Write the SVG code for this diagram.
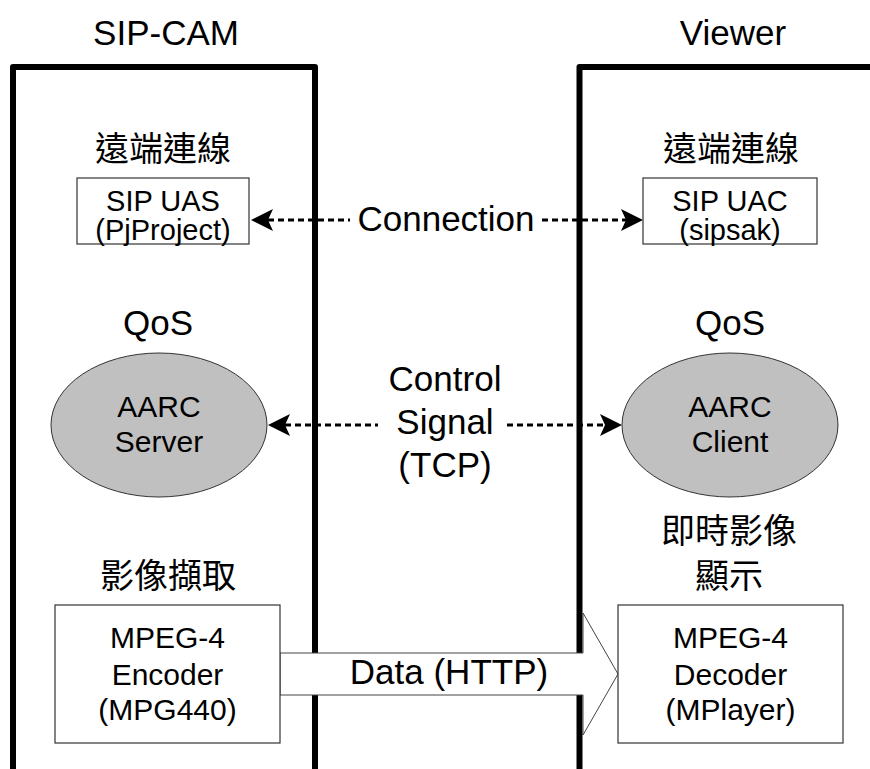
<svg xmlns="http://www.w3.org/2000/svg" width="870" height="769" viewBox="0 0 870 769">
<defs>
<style>
.frame{fill:none;stroke:#000;stroke-width:6;stroke-linejoin:round}
.box{fill:#fff;stroke:#333;stroke-width:1.2}
.ell{fill:#c0c0c0;stroke:#333;stroke-width:1}
.dash{fill:none;stroke:#000;stroke-width:3;stroke-dasharray:6 4}
.big{fill:#fff;stroke:#444;stroke-width:1}
text{font-family:"Liberation Sans",Arial,sans-serif;fill:#000;text-anchor:middle}
.t35{font-size:35px}
.t30{font-size:30px}
.t29{font-size:29px}
.cjk{font-family:"Noto Sans CJK TC","Noto Sans CJK SC",sans-serif;font-size:34px}
</style>
<marker id="ah" viewBox="0 0 22 22" markerWidth="22" markerHeight="22" refX="5" refY="11" orient="auto-start-reverse" markerUnits="userSpaceOnUse">
<path d="M0,0 L22,11 L0,22 L5,11 z" fill="#000"/>
</marker>
</defs>
<rect width="870" height="769" fill="#fff"/>

<g id="sipcam">
<path class="frame" d="M13,775 V67 H315 V775"/>
<text class="t35" x="166" y="45">SIP-CAM</text>
</g>
<g id="viewer">
<path class="frame" d="M579.5,775 V67 H880"/>
<text class="t35" x="733" y="45">Viewer</text>
</g>

<g id="connectors">
<line class="dash" x1="268" y1="220" x2="350" y2="220" marker-start="url(#ah)"/>
<line class="dash" x1="542" y1="220" x2="626" y2="220" marker-end="url(#ah)"/>
<text class="t35" x="446" y="231">Connection</text>
<line class="dash" x1="285" y1="425" x2="378" y2="425" marker-start="url(#ah)"/>
<line class="dash" x1="507" y1="425" x2="605" y2="425" marker-end="url(#ah)"/>
<text class="t35" x="445" y="391">Control</text>
<text class="t35" x="445" y="434">Signal</text>
<text class="t35" x="445" y="477">(TCP)</text>
<polygon class="big" points="280,653 583,653 583,613 618,674 583,735 583,695 280,695"/>
<text class="t35" x="449" y="684">Data (HTTP)</text>
</g>

<g id="sip-uas">
<text class="cjk" x="163" y="161">遠端連線</text>
<rect class="box" x="77" y="178" width="172" height="66"/>
<text class="t29" x="163" y="211">SIP UAS</text>
<text class="t29" x="163" y="240">(PjProject)</text>
</g>
<g id="sip-uac">
<text class="cjk" x="731" y="161">遠端連線</text>
<rect class="box" x="643" y="178" width="174" height="66"/>
<text class="t29" x="730" y="211">SIP UAC</text>
<text class="t29" x="730" y="240">(sipsak)</text>
</g>

<g id="aarc-server">
<text class="t35" x="158" y="335">QoS</text>
<ellipse class="ell" cx="159" cy="425" rx="108" ry="72"/>
<text class="t30" x="159" y="417">AARC</text>
<text class="t30" x="159" y="452">Server</text>
</g>
<g id="aarc-client">
<text class="t35" x="730" y="335">QoS</text>
<ellipse class="ell" cx="730" cy="425" rx="108" ry="72"/>
<text class="t30" x="730" y="417">AARC</text>
<text class="t30" x="730" y="452">Client</text>
</g>

<g id="encoder">
<text class="cjk" x="168" y="588">影像擷取</text>
<rect class="box" x="55" y="605" width="225" height="138"/>
<text class="t30" x="167.5" y="648">MPEG-4</text>
<text class="t30" x="167.5" y="685">Encoder</text>
<text class="t30" x="167.5" y="720">(MPG440)</text>
</g>
<g id="decoder">
<text class="cjk" x="729" y="543">即時影像</text>
<text class="cjk" x="729" y="588">顯示</text>
<rect class="box" x="618" y="605" width="225" height="138"/>
<text class="t30" x="730.5" y="648">MPEG-4</text>
<text class="t30" x="730.5" y="685">Decoder</text>
<text class="t30" x="730.5" y="720">(MPlayer)</text>
</g>
</svg>
